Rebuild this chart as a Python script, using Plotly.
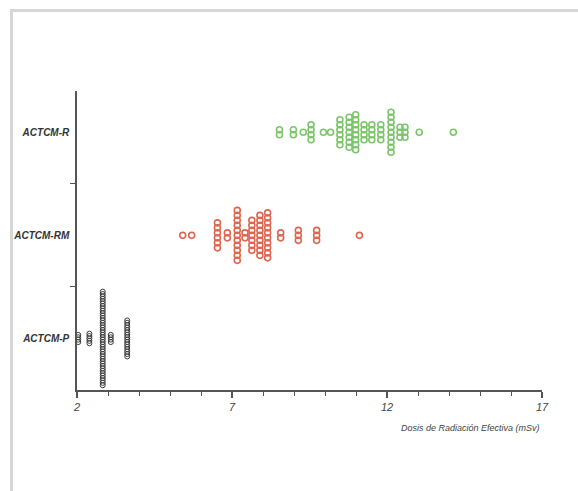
import plotly.graph_objects as go

# ---- data ----
categories = ["ACTCM-P", "ACTCM-RM", "ACTCM-R"]

r_values = [8.53, 8.98, 9.30, 9.55, 9.95, 10.18, 10.48, 10.78, 10.99, 11.26, 11.51, 11.80, 12.13, 12.42, 12.58, 13.04, 14.14]
r_counts = [2, 2, 1, 4, 1, 1, 6, 7, 8, 4, 4, 4, 9, 3, 3, 1, 1]

rm_values = [5.41, 5.70, 6.53, 6.85, 7.17, 7.42, 7.64, 7.90, 8.15, 8.57, 9.14, 9.73, 11.11]
rm_counts = [1, 1, 6, 2, 11, 2, 7, 9, 10, 2, 3, 3, 1]

p_values = [2.04, 2.40, 2.83, 3.09, 3.62]
p_counts = [4, 5, 40, 4, 16]

x_ticks = [2, 7, 12, 17]
x_title = "Dosis de Radiación Efectiva (mSv)"

# ---- layout geometry ----
W, H = 578, 491
ML, MR, MT, MB = 77, 36, 91, 101
plot_h = H - MT - MB
y_range = [-0.5, 2.4]
unit_px = plot_h / (y_range[1] - y_range[0])


def stack(values, counts, cat_index, step_px):
    xs, ys = [], []
    step = step_px / unit_px
    for v, n in zip(values, counts):
        for j in range(n):
            xs.append(v)
            ys.append(cat_index + (j - (n - 1) / 2) * step)
    return xs, ys


fig = go.Figure()

groups = [
    (p_values, p_counts, 0, 2.4, "#3a3a3a", 5, 1.0),
    (rm_values, rm_counts, 1, 5.0, "#dc6650", 6, 1.6),
    (r_values, r_counts, 2, 5.0, "#7cc46a", 6, 1.6),
]
for vals, cnts, ci, step, col, sz, lw in groups:
    xs, ys = stack(vals, cnts, ci, step)
    fig.add_trace(go.Scatter(
        x=xs, y=ys, mode="markers", cliponaxis=False, showlegend=False,
        marker=dict(symbol="circle-open", size=sz, color=col, line=dict(color=col, width=lw)),
    ))

font_fam = "Liberation Sans, Arial, sans-serif"
axis_col = "#555555"

fig.update_layout(
    width=W, height=H,
    margin=dict(l=ML, r=MR, t=MT, b=MB),
    paper_bgcolor="white", plot_bgcolor="white",
    xaxis=dict(
        range=[2, 17], tickvals=x_ticks, ticktext=[str(t) for t in x_ticks],
        showline=True, linecolor=axis_col, linewidth=1.5,
        ticks="outside", ticklen=6, tickwidth=1.5, tickcolor=axis_col,
        minor=dict(dtick=1, tick0=2, ticks="outside", ticklen=4, tickwidth=1, tickcolor=axis_col, showgrid=False),
        showgrid=False, zeroline=False,
        tickfont=dict(family=font_fam, size=11, color="#444444", style="italic"),
    ),
    yaxis=dict(
        range=y_range, tickvals=[0, 1, 2], ticktext=categories,
        showline=True, linecolor=axis_col, linewidth=1.5,
        ticks="", ticklabelstandoff=4,
        minor=dict(tickvals=[0.5, 1.5], ticks="outside", ticklen=5, tickwidth=1, tickcolor=axis_col, showgrid=False),
        showgrid=False, zeroline=False,
        tickfont=dict(family=font_fam, size=10, color="#333333", style="italic", weight="bold"),
    ),
    annotations=[dict(
        text=x_title, xref="paper", yref="paper", x=1.0, y=0, xanchor="right", yanchor="top",
        yshift=-31, showarrow=False,
        font=dict(family=font_fam, size=9, color="#444444", style="italic"),
    )],
)

# outer light frame (top and left edges), in figure pixels
pw = W - ML - MR
def px_x(p):
    return (p - ML) / pw
def px_y(p):
    return (H - MB - p) / plot_h

fig.add_shape(type="path", xref="paper", yref="paper",
              path=f"M {px_x(11.5)},{px_y(H + 5)} L {px_x(11.5)},{px_y(10.5)} L {px_x(W + 5)},{px_y(10.5)}",
              line=dict(color="#d6d6d6", width=3), layer="below")

fig.write_html(
    "out.html",
    config={"displayModeBar": False},
    post_script="document.body.style.margin='0';document.body.style.overflow='hidden';",
)
